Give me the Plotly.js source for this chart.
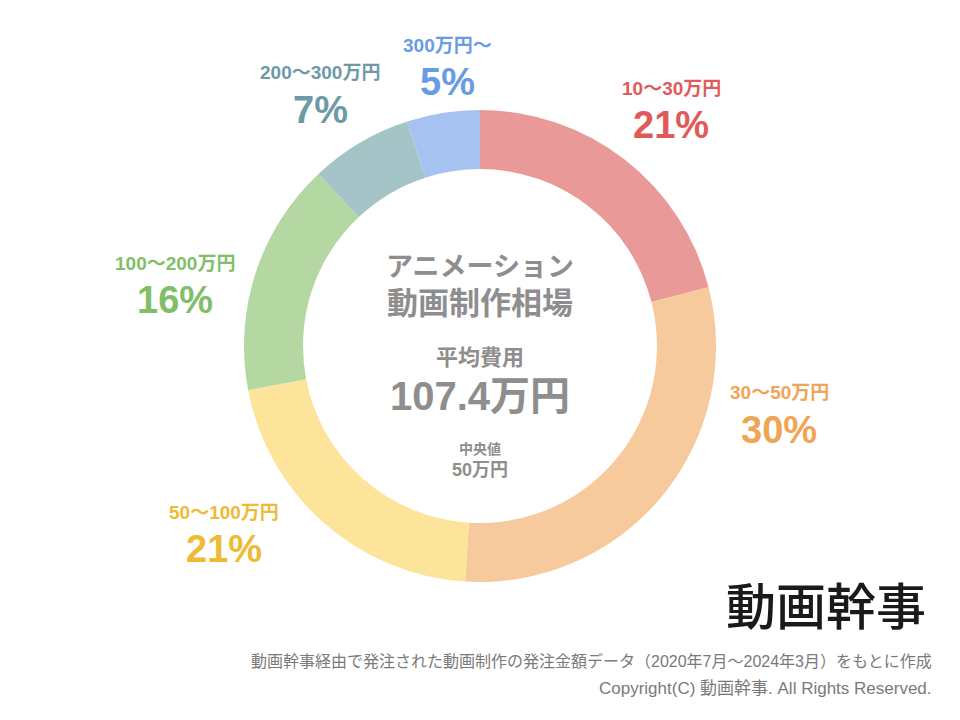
<!DOCTYPE html>
<html><head><meta charset="utf-8">
<script src="https://cdn.plot.ly/plotly-3.0.1.min.js"></script>
<style>html,body{margin:0;padding:0;background:#fff}#chart{width:960px;height:720px}</style>
</head><body><div id="chart"></div>
<script>
const categories = ["10〜30万円","30〜50万円","50〜100万円","100〜200万円","200〜300万円","300万円〜"];
const shares = [21, 30, 21, 16, 7, 5];
const sliceColors = ["#E99A98","#F7CA9D","#FDE49B","#B5D8A2","#A4C4C8","#A5C2F1"];
const labelColors = ["#E05A5A","#F0A455","#EDBB35","#82BE6A","#6E9AA6","#6A9BE5"];
const labelPos = [[671,88],[779,393],[224,512],[175,263],[320,73],[447,45]];

const W=960,H=720;
const px = x => x/W, py = y => 1 - y/H;
const fontFam = "Liberation Sans, Arial, 'Noto Sans CJK JP', sans-serif";

const annotations = [];
categories.forEach((c,i)=>{
  const [x,y] = labelPos[i];
  annotations.push({x:px(x),y:py(y),xref:'paper',yref:'paper',showarrow:false,text:'<b>'+c+'</b>',
    font:{family:fontFam,size:19,color:labelColors[i]},xanchor:'center',yanchor:'middle'});
  annotations.push({x:px(x),y:py(y+37),xref:'paper',yref:'paper',showarrow:false,text:'<b>'+shares[i]+'%</b>',
    font:{family:fontFam,size:38,color:labelColors[i]},xanchor:'center',yanchor:'middle'});
});
const gray = "#8E8E8E";
const centerTexts = [
  ["アニメーション",267,27],["動画制作相場",303,31],["平均費用",357,22],["107.4万円",396,40],["中央値",449,14],["50万円",470,18]
];
centerTexts.forEach(([t,y,s])=>{
  annotations.push({x:px(480),y:py(y),xref:'paper',yref:'paper',showarrow:false,text:'<b>'+t+'</b>',
    font:{family:fontFam,size:s,color:gray},xanchor:'center',yanchor:'middle'});
});
annotations.push({x:px(826),y:py(603),xref:'paper',yref:'paper',showarrow:false,text:'動画幹事',
  font:{family:"'Noto Sans CJK JP', sans-serif",size:50,weight:500,color:"#1a1a1a"},xanchor:'center',yanchor:'middle'});
annotations.push({x:px(934),y:py(661),xref:'paper',yref:'paper',showarrow:false,
  text:'動画幹事経由で発注された動画制作の発注金額データ（2020年7月～2024年3月）をもとに作成',
  font:{family:fontFam,size:16,color:"#7a7a7a"},xanchor:'right',yanchor:'middle'});
annotations.push({x:px(934),y:py(688),xref:'paper',yref:'paper',showarrow:false,
  text:'Copyright(C) 動画幹事. All Rights Reserved.',
  font:{family:fontFam,size:17,color:"#7a7a7a"},xanchor:'right',yanchor:'middle'});

const R=236, cx=480, cy=346;
const data=[{type:'pie',labels:categories,values:shares,sort:false,direction:'clockwise',rotation:0,
  hole:0.75,textinfo:'none',hoverinfo:'none',marker:{colors:sliceColors,line:{width:0}},
  domain:{x:[px(cx-R),px(cx+R)],y:[py(cy+R),py(cy-R)]},showlegend:false}];
const layout={width:W,height:H,margin:{l:0,r:0,t:0,b:0},paper_bgcolor:'#fff',showlegend:false,annotations};
Plotly.newPlot('chart',data,layout,{displayModeBar:false,staticPlot:true});
</script></body></html>
